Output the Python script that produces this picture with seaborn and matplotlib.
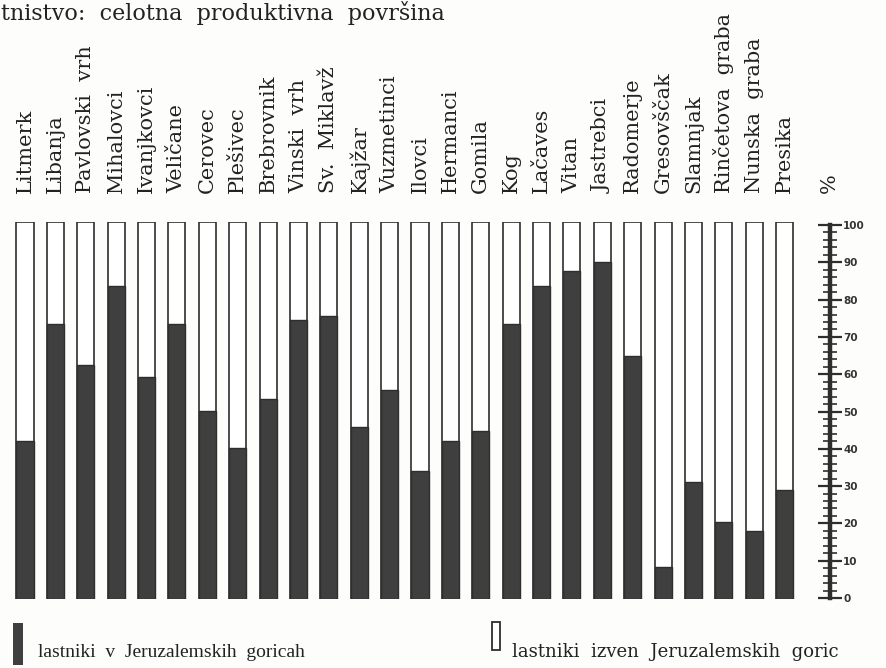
import matplotlib
matplotlib.use("Agg")
import matplotlib.pyplot as plt
from matplotlib.patches import Rectangle
from matplotlib.ticker import MultipleLocator
import seaborn as sns

# vasi in delež površine lastnikov iz Jeruzalemskih goric (%)
villages = ["Litmerk", "Libanja", "Pavlovski  vrh", "Mihalovci", "Ivanjkovci",
            "Veličane", "Cerovec", "Plešivec", "Brebrovnik", "Vinski  vrh",
            "Sv.  Miklavž", "Kajžar", "Vuzmetinci", "Ilovci", "Hermanci",
            "Gomila", "Kog", "Lačaves", "Vitan", "Jastrebci", "Radomerje",
            "Gresovščak", "Slamnjak", "Rinčetova  graba", "Nunska  graba", "Presika"]
inside = [42, 73, 62, 83, 59, 73, 50, 40, 53, 74, 75, 45.5, 55.5, 34, 42,
          44.5, 73, 83, 87, 89.5, 64.5, 8.5, 31, 20.5, 18, 29]
totals = [100] * len(villages)

title = "tnistvo:  celotna  produktivna  površina"
legend_in = "lastniki  v  Jeruzalemskih  goricah"
legend_out = "lastniki  izven  Jeruzalemskih  goric"
scale_ticks = list(range(0, 101, 10))

DARK = "#3f3f3f"
EDGE = "#2e2e2e"
BG = "#fdfdfb"

sns.set_theme(style="white")
plt.rcParams["font.family"] = ["DejaVu Serif", "DejaVu Sans"]

W, H = 886, 668
fig = plt.figure(figsize=(W / 100, H / 100), dpi=100, facecolor=BG)

# glavni del: stolpci
ax = fig.add_axes([9.8 / W, (H - 599) / H, 790 / W, 377 / H])
ax.set_facecolor(BG)
sns.barplot(x=villages, y=totals, color="white", saturation=1, width=0.56,
            edgecolor=EDGE, linewidth=1.2, ax=ax)
sns.barplot(x=villages, y=inside, color=DARK, saturation=1, width=0.56,
            edgecolor=EDGE, linewidth=1.0, ax=ax)
ax.set_xlim(-0.5, len(villages) - 0.5)
ax.set_ylim(0, 100)
ax.set_frame_on(False)
ax.yaxis.set_visible(False)
ax.set_xlabel("")
ax.set_ylabel("")
ax.xaxis.tick_top()
ax.set_xticks(range(len(villages)))
ax.set_xticklabels(villages, rotation=90, fontsize=15, color="#222222")
ax.tick_params(axis="x", length=0, pad=21)

# lestvica v odstotkih
ax2 = fig.add_axes([830 / W, (H - 598) / H, 0.0001, 373 / H])
ax2.set_facecolor("none")
ax2.set_ylim(0, 100)
for s in ["top", "bottom", "left"]:
    ax2.spines[s].set_visible(False)
ax2.spines["right"].set_linewidth(3.2)
ax2.spines["right"].set_color(EDGE)
ax2.xaxis.set_visible(False)
ax2.yaxis.tick_right()
ax2.set_yticks(scale_ticks)
ax2.set_yticklabels([str(t) for t in scale_ticks], fontsize=7.5,
                    fontweight="bold", family="DejaVu Sans", color="#333333")
ax2.yaxis.set_minor_locator(MultipleLocator(2))
ax2.tick_params(axis="y", which="major", direction="inout", length=17,
                width=1.6, color=EDGE, pad=1)
ax2.tick_params(axis="y", which="minor", direction="inout", length=10,
                width=1.2, color=EDGE)
fig.text(829 / W, 1 - 193 / H, "%", rotation=90, ha="center", va="bottom",
         fontsize=15, color="#222222")

# naslov (odrezan na vrhu)
fig.text(1 / W, 1 - 20 / H, title, ha="left", va="baseline",
         fontsize=16, color="#222222")

# legenda
fig.add_artist(Rectangle((13 / W, (H - 665) / H), 10 / W, 42 / H,
                         transform=fig.transFigure, facecolor=DARK,
                         edgecolor="none"))
fig.text(38 / W, 1 - 657 / H, legend_in, ha="left", va="baseline",
         fontsize=14, family="Liberation Serif", color="#222222")
fig.add_artist(Rectangle((492 / W, (H - 650) / H), 8 / W, 28 / H,
                         transform=fig.transFigure, facecolor="white",
                         edgecolor=EDGE, linewidth=1.3))
fig.text(512 / W, 1 - 657 / H, legend_out, ha="left", va="baseline",
         fontsize=13, family="DejaVu Serif", color="#222222")

fig.savefig("out.png", dpi=100, facecolor=BG)
